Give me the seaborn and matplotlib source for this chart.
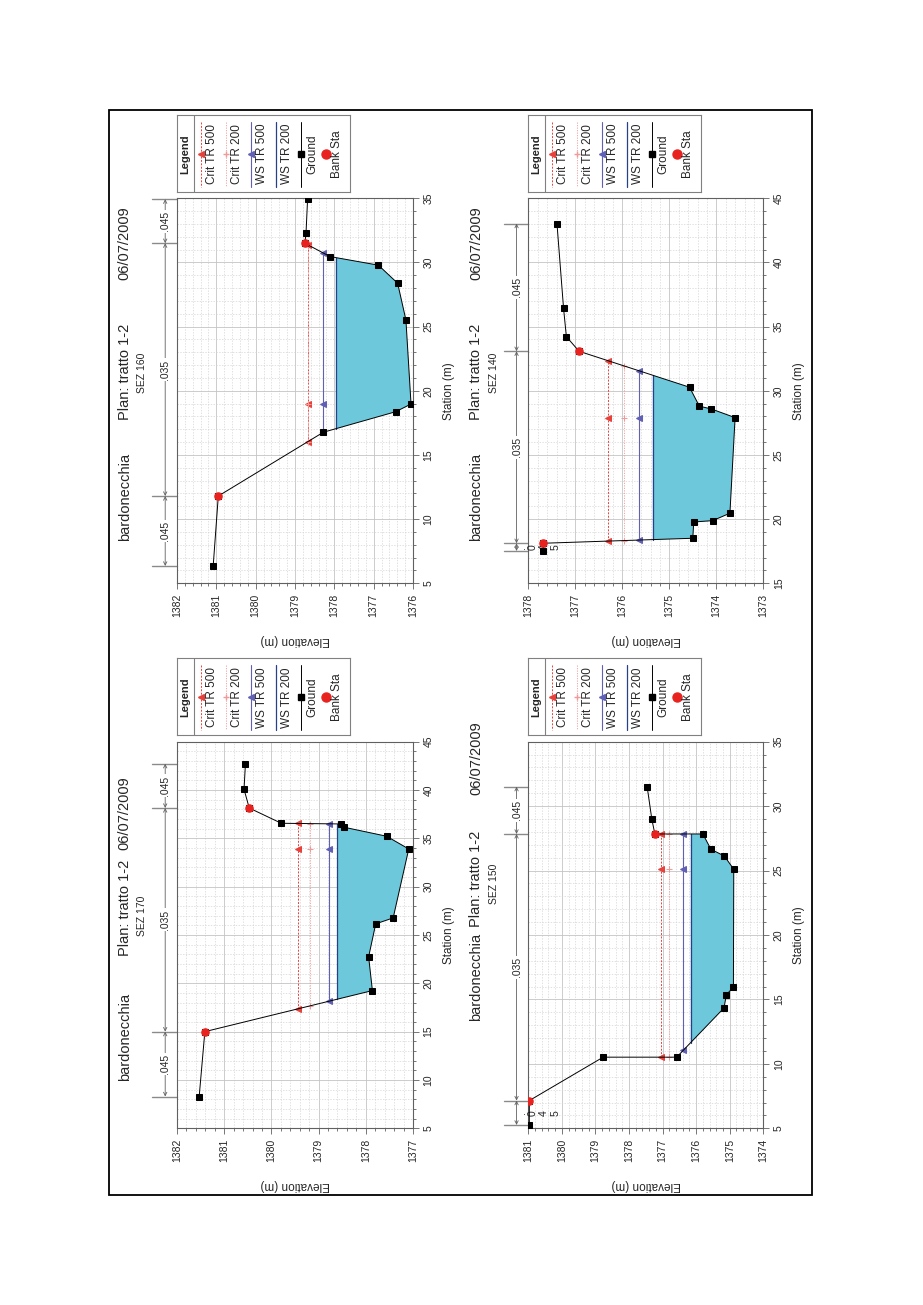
import numpy as np
import seaborn as sns
import matplotlib
matplotlib.use('Agg')
import matplotlib.pyplot as plt
from matplotlib import transforms
from matplotlib.patches import Rectangle
from matplotlib.ticker import MultipleLocator, FormatStrFormatter

# ground profiles (station m, elevation m)
sez160_sta = [6.35, 11.8, 16.77, 18.37, 18.97, 25.52, 28.38, 29.79, 30.46, 31.5, 32.28, 34.93]
sez160_elev = [1381.08, 1380.95, 1378.28, 1376.44, 1376.05, 1376.18, 1376.39, 1376.88, 1378.11, 1378.75, 1378.72, 1378.68]
sez160_banks = [11.8, 31.5]
sez160_bank_elev = [1380.95, 1378.75]
sez160_wsel = [1378.68, 1378.68, 1378.28, 1377.96]

sez140_sta = [17.52, 18.12, 18.51, 19.78, 19.88, 20.46, 27.91, 28.59, 28.8, 30.28, 33.08, 34.22, 36.43, 43.03]
sez140_elev = [1377.68, 1377.69, 1374.50, 1374.48, 1374.08, 1373.71, 1373.60, 1374.11, 1374.36, 1374.57, 1376.92, 1377.19, 1377.25, 1377.39]
sez140_banks = [18.12, 33.08]
sez140_bank_elev = [1377.69, 1376.92]
sez140_wsel = [1376.30, 1375.96, 1375.64, 1375.35]

sez170_sta = [8.29, 15.0, 19.25, 22.74, 26.15, 26.77, 33.9, 35.22, 36.15, 36.49, 36.56, 38.14, 40.08, 42.72]
sez170_elev = [1381.53, 1381.41, 1377.86, 1377.94, 1377.79, 1377.42, 1377.09, 1377.56, 1378.46, 1378.53, 1379.79, 1380.47, 1380.58, 1380.55]
sez170_banks = [15.0, 38.14]
sez170_bank_elev = [1381.41, 1380.47]
sez170_wsel = [1379.44, 1379.18, 1378.77, 1378.60]

sez150_sta = [5.26, 7.15, 10.52, 10.52, 14.34, 15.37, 15.95, 25.1, 26.13, 26.65, 27.84, 27.84, 28.98, 31.51]
sez150_elev = [1380.97, 1380.97, 1378.77, 1376.58, 1375.17, 1375.10, 1374.89, 1374.88, 1375.16, 1375.56, 1375.80, 1377.23, 1377.32, 1377.46]
sez150_banks = [7.15, 27.84]
sez150_bank_elev = [1380.97, 1377.23]
sez150_wsel = [1377.05, 1376.80, 1376.38, 1376.16]

n_values = ['.045', '.035', '.045']
series_names = ['Crit TR 500', 'Crit TR 200', 'WS TR 500', 'WS TR 200']

FW, FH = 923, 1305
FILL = '#6cc8da'
BANK = '#e8231f'
styles = [
    dict(color='#e8413c', ls=(0, (2, 1.5)), marker='<', ms=4.5, lw=0.7),
    dict(color='#f29a9a', ls=(0, (1.5, 1.5)), marker='+', ms=4.5, lw=0.6),
    dict(color='#6060b4', ls='-', marker='<', ms=4.5, lw=0.8),
    dict(color='#27408b', ls='-', marker=None, ms=0, lw=0.9),
]

# page is printed rotated: station runs up the sheet, elevation decreases to the right
panels = [
    dict(name='SEZ 160', sta=sez160_sta, elev=sez160_elev, banks=sez160_banks, bank_elev=sez160_bank_elev,
         wsel=sez160_wsel, xlim=(1382, 1376), ylim=(5, 35), rect=(177, 198.3, 236, 385),
         title=(0.338, 0.550, 0.788), sez=0.546),
    dict(name='SEZ 140', sta=sez140_sta, elev=sez140_elev, banks=sez140_banks, bank_elev=sez140_bank_elev,
         wsel=sez140_wsel, xlim=(1378, 1373), ylim=(15, 45), rect=(528.3, 198.3, 235, 385),
         title=(0.338, 0.550, 0.788), sez=0.546),
    dict(name='SEZ 170', sta=sez170_sta, elev=sez170_elev, banks=sez170_banks, bank_elev=sez170_bank_elev,
         wsel=sez170_wsel, xlim=(1382, 1377), ylim=(5, 45), rect=(177, 741.7, 236, 386.6),
         title=(0.350, 0.571, 0.720), sez=0.549),
    dict(name='SEZ 150', sta=sez150_sta, elev=sez150_elev, banks=sez150_banks, bank_elev=sez150_bank_elev,
         wsel=sez150_wsel, xlim=(1381, 1374), ylim=(5, 35), rect=(528.3, 741.7, 235, 386.6),
         title=(0.505, 0.644, 0.863), sez=0.632),
]


def wet_extent(sta, elev, level, imin):
    i = imin
    while i > 0 and elev[i - 1] < level:
        i -= 1
    j = i - 1
    left = sta[j] + (elev[j] - level) / (elev[j] - elev[i]) * (sta[i] - sta[j])
    k = imin
    while k < len(sta) - 1 and elev[k + 1] < level:
        k += 1
    m = k + 1
    right = sta[k] + (level - elev[k]) / (elev[m] - elev[k]) * (sta[m] - sta[k])
    return left, right, i, k


def draw_legend(L, T):
    # box sits just above the plot top (T) on the sheet
    lax = fig.add_axes([L / FW, 1 - (T - 6.3) / FH, 173 / FW, 77 / FH])
    lax.set_xlim(0, 173)
    lax.set_ylim(77, 0)
    lax.set_xticks([])
    lax.set_yticks([])
    for s in lax.spines.values():
        s.set_color('#808080')
        s.set_linewidth(0.8)
    lax.text(8, 39, 'Legend', rotation=90, ha='center', va='center', fontsize=8, fontweight='bold')
    lax.plot([17, 17], [0, 77], color='#808080', lw=0.8)
    names = series_names + ['Ground', 'Bank Sta']
    for i, name in enumerate(names):
        xs = 24 + 25 * i
        if i < 4:
            st = styles[i]
            lax.plot([xs, xs, xs], [7, 39, 72], color=st['color'], ls=st['ls'], lw=st['lw'])
            if st['marker']:
                lax.plot([xs], [39], marker=st['marker'], ms=st['ms'], color=st['color'], ls='none')
        elif name == 'Ground':
            lax.plot([xs, xs], [7, 72], color='black', lw=0.7)
            lax.plot([xs], [39], marker='s', ms=4, color='black')
        else:
            lax.plot([xs], [39], marker='o', ms=6.5, color=BANK)
        lax.text(xs + 11, 39, name, rotation=90, ha='center', va='center', fontsize=8.5)


sns.set_style('ticks')
plt.rcParams['font.family'] = ['Liberation Sans', 'DejaVu Sans']

fig = plt.figure(figsize=(FW / 100, FH / 100), dpi=100)

for p in panels:
    L, T, W, H = p['rect']
    ax = fig.add_axes([L / FW, 1 - (T + H) / FH, W / FW, H / FH])
    sta = np.array(p['sta'])
    elev = np.array(p['elev'])
    imin = int(np.argmin(elev))
    crit500, crit200, ws500, ws200 = p['wsel']

    # water below WS TR 200
    l, r, il, ir = wet_extent(sta, elev, ws200, imin)
    poly_y = [l] + list(sta[il:ir + 1]) + [r]
    poly_x = [ws200] + list(elev[il:ir + 1]) + [ws200]
    ax.fill(poly_x, poly_y, color=FILL, lw=0, zorder=2)

    for level, st in zip([crit500, crit200, ws500, ws200], styles):
        l, r, _, _ = wet_extent(sta, elev, level, imin)
        ys = [l, r] if st['marker'] is None else [l, sta[imin], r]
        sns.lineplot(x=[level] * len(ys), y=ys, sort=False, estimator=None, ax=ax,
                     color=st['color'], linestyle=st['ls'], lw=st['lw'],
                     marker=st['marker'], markersize=st['ms'],
                     markeredgecolor=st['color'], markerfacecolor=st['color'], zorder=3)

    sns.lineplot(x=elev, y=sta, sort=False, estimator=None, ax=ax, color='black', lw=0.7,
                 marker='s', markersize=4, markeredgecolor='black', markerfacecolor='black', zorder=5)
    sns.scatterplot(x=p['bank_elev'], y=p['banks'], ax=ax, color=BANK, s=38, edgecolor=BANK,
                    linewidth=0, zorder=6)

    ax.set_xlim(*p['xlim'])
    ax.set_ylim(*p['ylim'])
    ax.xaxis.set_major_locator(MultipleLocator(1))
    ax.xaxis.set_minor_locator(MultipleLocator(0.2))
    ax.yaxis.set_major_locator(MultipleLocator(5))
    ax.yaxis.set_minor_locator(MultipleLocator(1))
    ax.xaxis.set_major_formatter(FormatStrFormatter('%.0f'))
    ax.yaxis.set_major_formatter(FormatStrFormatter('%.0f'))
    ax.grid(which='major', color='#c4c4c4', lw=0.6)
    ax.grid(which='minor', color='#d4d4d4', lw=0.5, ls=(0, (2, 2)))
    ax.set_axisbelow(True)
    ax.yaxis.tick_right()
    ax.tick_params(which='both', direction='out', color='#606060', width=0.6, labelsize=7.5)
    ax.tick_params(which='major', length=4)
    ax.tick_params(which='minor', length=2.5)
    ax.tick_params(axis='x', labelrotation=90, top=False, bottom=True)
    ax.tick_params(axis='y', labelrotation=90, left=False, right=True, labelleft=False, labelright=True)
    plt.setp(ax.get_yticklabels(), va='center')
    for s in ax.spines.values():
        s.set_color('#606060')
        s.set_linewidth(0.8)
    ax.set_xlabel('Elevation (m)', rotation=180, fontsize=8.5, labelpad=12)
    ax.yaxis.set_label_position('right')
    ax.set_ylabel('Station (m)', rotation=90, fontsize=8.5, labelpad=7)

    # header lines
    b_end, plan_c, d_start = p['title']
    kw = dict(transform=ax.transAxes, rotation=90, va='center', rotation_mode='anchor', fontsize=10.5)
    ax.text(-0.222, b_end, 'bardonecchia', ha='right', **kw)
    ax.text(-0.222, plan_c, 'Plan: tratto 1-2', ha='center', **kw)
    ax.text(-0.222, d_start, '06/07/2009', ha='left', **kw)
    ax.text(-0.148, p['sez'], p['name'], transform=ax.transAxes, rotation=90, ha='center', va='center',
            rotation_mode='anchor', fontsize=7.5)

    # Manning's n strip
    trans = transforms.blended_transform_factory(ax.transAxes, ax.transData)
    breaks = [sta[0], p['banks'][0], p['banks'][1], sta[-1]]
    for s in breaks:
        ax.plot([-0.105, 0], [s, s], transform=trans, color='#8a8a8a', lw=1.0, clip_on=False)
    for s0, s1, nv in zip(breaks[:-1], breaks[1:], n_values):
        ax.annotate('', xy=(-0.05, s1), xytext=(-0.05, s0), xycoords=trans, textcoords=trans,
                    annotation_clip=False,
                    arrowprops=dict(arrowstyle='<->', color='#606060', lw=0.6, shrinkA=0, shrinkB=0,
                                    mutation_scale=6))
        mid = (s0 + s1) / 2
        if s1 - s0 > 2.5:
            ax.text(-0.05, mid, nv, transform=trans, rotation=90, ha='center', va='center',
                    rotation_mode='anchor', fontsize=7.5,
                    bbox=dict(fc='white', ec='none', pad=1.0))
        else:
            ax.text(-0.05, mid, '\n'.join(nv), transform=trans, rotation=90, ha='center', va='top',
                    rotation_mode='anchor', fontsize=7.5, linespacing=1.15, multialignment='center')

    draw_legend(L, T)

fig.add_artist(Rectangle((109 / FW, 1 - 1195 / FH), (812 - 109) / FW, (1195 - 110) / FH,
                         transform=fig.transFigure, fill=False, lw=1.3, color='black'))

fig.savefig('out.png', dpi=100, facecolor='white')
